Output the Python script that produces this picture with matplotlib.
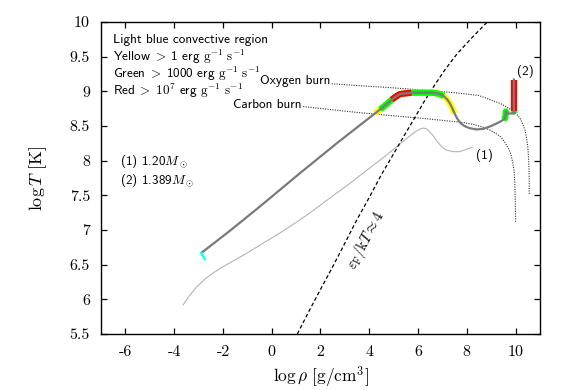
import matplotlib
matplotlib.use("Agg")
import matplotlib.pyplot as plt
import numpy as np

plt.rcParams["font.family"] = "cmr10"
plt.rcParams["mathtext.fontset"] = "cm"
plt.rcParams["axes.unicode_minus"] = False
plt.rcParams["axes.formatter.use_mathtext"] = False

# track of model (2), 1.389 Msun: log rho, log T
rho2 = [-2.81, -1.71, -0.62, 0.34, 1.16, 2.70, 4.23, 4.45, 4.70, 4.92,
        5.12, 5.26, 5.46, 5.73, 6.20, 6.60, 6.90, 7.05, 7.18, 7.30,
        7.40, 7.50, 7.62, 7.75, 7.90, 8.10, 8.40, 8.70, 9.00, 9.30,
        9.50, 9.58, 9.60, 9.63, 9.95, 9.93, 9.93]
temp2 = [6.69, 6.99, 7.30, 7.58, 7.82, 8.26, 8.68, 8.74, 8.81, 8.88,
         8.93, 8.96, 8.97, 8.98, 8.98, 8.98, 8.96, 8.93, 8.89, 8.83,
         8.76, 8.68, 8.60, 8.54, 8.50, 8.47, 8.45, 8.46, 8.50, 8.55,
         8.59, 8.62, 8.71, 8.68, 8.68, 8.72, 9.17]

# convective start (light blue)
rho_conv = [-2.81, -2.90, -2.74]
temp_conv = [6.69, 6.67, 6.58]

# energy generation bands as index ranges on track (2)
yellow_idx = [(6, 22)]
green_idx = [(7, 18), (30, 34), (34, 36)]
red_idx = [(9, 14), (35, 37)]

# track of model (1), 1.20 Msun
rho1 = [-3.63, -3.40, -3.10, -2.75, -2.40, -2.05, -1.70, -1.00, -0.35,
        0.35, 1.00, 1.50, 2.00, 2.50, 3.20, 3.89, 4.60, 5.26, 5.60,
        5.90, 6.10, 6.22, 6.35, 6.49, 6.62, 6.76, 6.90, 7.03, 7.20,
        7.45, 7.70, 7.95, 8.20]
temp1 = [5.92, 6.04, 6.17, 6.29, 6.38, 6.46, 6.53, 6.67, 6.81,
         6.96, 7.11, 7.23, 7.36, 7.49, 7.67, 7.86, 8.05, 8.24, 8.34,
         8.42, 8.46, 8.47, 8.46, 8.41, 8.36, 8.29, 8.23, 8.18, 8.15,
         8.13, 8.13, 8.16, 8.19]

# ignition lines
rho_oxy = [2.46, 3.65, 5.00, 6.50, 7.50, 8.50, 9.10, 9.40, 9.60, 9.80,
           9.95, 10.10, 10.20, 10.30, 10.38, 10.45, 10.50, 10.53, 10.55,
           10.56, 10.56]
temp_oxy = [9.11, 9.08, 9.05, 9.01, 8.98, 8.94, 8.86, 8.82, 8.78, 8.74,
            8.70, 8.65, 8.60, 8.52, 8.45, 8.33, 8.20, 8.05, 7.90,
            7.70, 7.50]
rho_carb = [1.29, 3.65, 6.49, 7.86, 8.30, 8.60, 8.95, 9.20, 9.40, 9.55,
            9.70, 9.80, 9.88, 9.94, 9.97, 9.99, 10.00]
temp_carb = [8.78, 8.69, 8.60, 8.55, 8.52, 8.49, 8.44, 8.39, 8.34, 8.27,
             8.18, 8.10, 7.98, 7.85, 7.65, 7.40, 7.12]

# degeneracy line eF/kT ~ 4
rho_deg = [1.05, 1.50, 1.98, 2.50, 3.00, 3.48, 4.00, 4.50, 5.00, 5.33,
           5.80, 6.28, 6.70, 7.10, 7.60, 8.20, 8.84]
temp_deg = [5.50, 5.81, 6.13, 6.47, 6.81, 7.14, 7.47, 7.80, 8.10, 8.30,
            8.58, 8.87, 9.10, 9.31, 9.54, 9.77, 10.00]

fig = plt.figure(figsize=(5.72, 3.90), dpi=100)
ax = fig.add_axes([0.1766, 0.1436, 0.7674, 0.8])

rho2 = np.array(rho2)
temp2 = np.array(temp2)
for a, b in yellow_idx:
    ax.plot(rho2[a:b], temp2[a:b], color="#ffff00", lw=4.5,
            solid_capstyle="butt", zorder=2)
for a, b in green_idx:
    ax.plot(rho2[a:b], temp2[a:b], color="#00ff00", lw=4.5,
            solid_capstyle="butt", zorder=3)
for a, b in red_idx:
    ax.plot(rho2[a:b], temp2[a:b], color="#ff0000", lw=4.5,
            solid_capstyle="butt", zorder=4)
ax.plot(rho_conv, temp_conv, color="#00ffff", lw=1.6, zorder=4)
ax.plot(rho2, temp2, color="#7a7a7a", lw=1.6, zorder=5)

ax.plot(rho1, temp1, color="#b4b4b4", lw=0.8, zorder=1)

ax.plot(rho_oxy, temp_oxy, color="#333333", lw=0.8,
        ls=(0, (1, 1.2)), zorder=1)
ax.plot(rho_carb, temp_carb, color="#333333", lw=0.8,
        ls=(0, (1, 1.2)), zorder=1)
ax.plot(rho_deg, temp_deg, color="black", lw=0.9,
        ls=(0, (3, 2)), zorder=1)

sans = dict(family="cmss10", fontsize=9.5)
ax.text(-6.5, 9.74, "Light blue convective region", va="center", **sans)
ax.text(-6.5, 9.50,
        r"Yellow$\;>\;$1 erg $\mathrm{g}^{-1}\ \mathrm{s}^{-1}$",
        va="center", **sans)
ax.text(-6.5, 9.25,
        r"Green$\;>\;$1000 erg $\mathrm{g}^{-1}\ \mathrm{s}^{-1}$",
        va="center", **sans)
ax.text(-6.5, 9.01,
        r"Red$\;>\;10^7$ erg $\mathrm{g}^{-1}\ \mathrm{s}^{-1}$",
        va="center", **sans)
ax.text(-6.22, 7.99, r"(1) 1.20$M_\odot$", va="center", **sans)
ax.text(-6.22, 7.72, r"(2) 1.389$M_\odot$", va="center", **sans)
ax.text(2.40, 9.15, "Oxygen burn", ha="right", va="center", **sans)
ax.text(1.22, 8.80, "Carbon burn", ha="right", va="center", **sans)
ax.text(8.74, 8.08, "(1)", ha="center", va="center", **sans)
ax.text(10.40, 9.28, "(2)", ha="center", va="center", **sans)
ax.text(3.85, 6.85, r"$\varepsilon_\mathrm{F}/\mathrm{k}T \approx 4$",
        ha="center", va="center", rotation=62, rotation_mode="anchor",
        fontsize=10.5)

ax.set_xlim(-7, 11)
ax.set_ylim(5.5, 10)
ax.set_xticks(np.arange(-6, 11, 2))
ax.set_yticks(np.arange(5.5, 10.01, 0.5))
ax.set_yticklabels(["5.5", "6", "6.5", "7", "7.5", "8", "8.5", "9", "9.5", "10"])
ax.set_xticklabels(["-6", "-4", "-2", "0", "2", "4", "6", "8", "10"])
ax.tick_params(direction="in", top=True, right=True, length=4, width=0.9,
               labelsize=11.5, pad=8)
for s in ax.spines.values():
    s.set_linewidth(1.0)

ax.set_xlabel(r"$\log\rho\ [\mathrm{g/cm^3}]$", fontsize=12.5, labelpad=4)
ax.set_ylabel(r"$\log T\ [\mathrm{K}]$", fontsize=13, labelpad=15)

fig.savefig("out.png", dpi=100)
